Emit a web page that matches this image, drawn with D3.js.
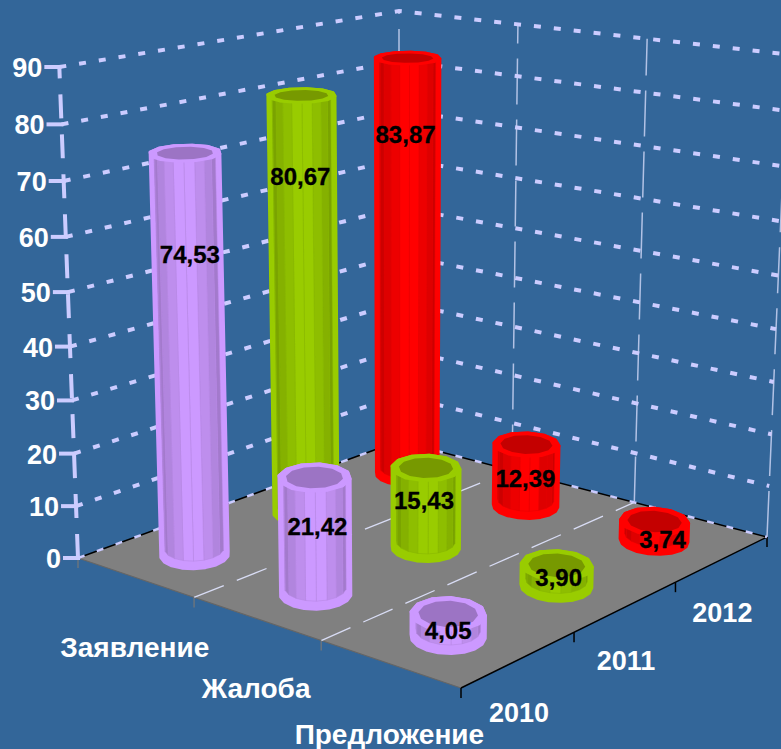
<!DOCTYPE html>
<html><head><meta charset="utf-8">
<script src="https://cdn.jsdelivr.net/npm/d3@7/dist/d3.min.js"></script>
<style>html,body{margin:0;padding:0;background:#336699}svg{display:block}text{font-family:"Liberation Sans",Arial,sans-serif;font-weight:bold}</style>
</head><body><svg id="c" width="781" height="749"></svg>
<script>
const categories = ["Заявление","Жалоба","Предложение"];
const years = ["2010","2011","2012"];
const yTicks = [0,10,20,30,40,50,60,70,80,90];
const values2010 = [74.53,21.42,4.05];
const values2011 = [80.67,15.43,3.90];
const values2012 = [83.87,12.39,3.74];
const seriesValues = [values2010,values2011,values2012];
const seriesColors = ["#CC99FF","#99CC00","#FF0000"];
const seriesInner = ["#9C74C4","#779900","#C40000"];

// layout: projective camera fitted to the picture
const floorCorners = [[78,558],[461,688],[767,537],[399,441]];
const vanish = [399,9000], axisTopY = 67, maxV = 90;
// label placement (px from top-face centre)
const labelNudge = {
  "2010":[[5,101],[3,49],[0,16]],
  "2011":[[-1,81],[-2,33],[2,12]],
  "2012":[[-2,76],[-1,34],[8,18]]
};

const [[x0,y0],[x1,y1],[x2,y2],[x3,y3]] = floorCorners;
const dx1=x1-x2,dx2=x3-x2,dy1=y1-y2,dy2=y3-y2,sx=x0-x1+x2-x3,sy=y0-y1+y2-y3,den=dx1*dy2-dx2*dy1;
const g=(sx*dy2-dx2*sy)/den,h=(dx1*sy-sx*dy1)/den;
const a=x1-x0+g*x1,b=x3-x0+h*x3,c=x0,d=y1-y0+g*y1,e=y3-y0+h*y3,f=y0;
const tScale=d3.scaleLinear().domain([0,maxV]).range([0,(axisTopY-y0)/(vanish[1]-axisTopY)]);
function P(u,v,val){
  const t=tScale(val||0), W=g*u+h*v+1+t;
  return [(a*u+b*v+c+t*vanish[0])/W,(d*u+e*v+f+t*vanish[1])/W];
}
const uBand=d3.scaleBand().domain(categories).range([0,1]);
const vBand=d3.scaleBand().domain(years).range([0,1]);
const uTicks=[0,1/3,2/3,1], vTicks=[0,1/3,2/3,1];

const svg=d3.select("#c");
const line=d3.line();
const GRID="#CCCCFF";
function seg(pts,col,w,dash,op){
  const p=svg.append("path").attr("d",line(pts)).attr("fill","none").attr("stroke",col).attr("stroke-width",w);
  if(dash)p.attr("stroke-dasharray",dash);
  if(op)p.attr("opacity",op);
  return p;
}
// wall verticals on the back-right wall
uTicks.forEach(u=>seg([P(u,1,0),P(u,1,maxV)],"#DDE2FF",1.5,"46,15",0.75));

// floor
svg.append("path").attr("d",line([P(0,0),P(1,0),P(1,1),P(0,1)])+"Z").attr("fill","#808080");
seg([P(0,0),P(1,0)],"#666",1.2);
seg([P(0,0),P(0,1)],"#000",1.5);
seg([P(0,1),P(1,1)],"#000",1.5);
seg([P(1,0),P(1,1)],"#000",1.5);
// floor lines
[1/3,2/3].forEach(u=>seg([P(u,0),P(u,1)],"#D8DCF4",1.3,"32,14"));
// ticks below the floor
uTicks.slice(0,3).forEach(u=>{const p=P(u,0);seg([p,[p[0],p[1]+10]],"#777",1.2);});
vTicks.forEach(v=>{const p=P(1,v);seg([p,[p[0],p[1]+10]],"#000",1.5);});

// dashed gridlines on both walls
yTicks.forEach(t=>{
  seg([P(0,0,t),P(0,1,t),P(1,1,t)],GRID,t===0?2.5:4,"7,13");
});
// value axis
seg([P(0,0,0),P(0,0,maxV)],GRID,4,"24,16");
yTicks.forEach(t=>{
  const p=P(0,0,t);
  seg([[p[0]-15,p[1]],[p[0]+2,p[1]]],GRID,4);
  svg.append("text").attr("x",p[0]-17).attr("y",p[1]+10).attr("text-anchor","end")
    .attr("font-size",27).attr("fill","#fff").text(t);
});
// category and year labels
categories.forEach(cat=>{
  const p=P(uBand(cat)+uBand.bandwidth()/2,0);
  svg.append("text").attr("x",p[0]).attr("y",p[1]+80).attr("text-anchor","middle")
    .attr("font-size",28).attr("fill","#fff").text(cat);
});
years.forEach(y=>{
  const p=P(1,vBand(y)+vBand.bandwidth()/2);
  svg.append("text").attr("x",p[0]).attr("y",p[1]+63).attr("text-anchor","middle")
    .attr("font-size",27).attr("fill","#fff").text(y);
});

// bars
const Ra=0.069,Rb=0.081,SIDES=18,RIM=12;
function ring(cu,cv,k,val,n){
  return d3.range(n).map(i=>{
    const an=i/n*2*Math.PI+0.2, A=Ra*k*Math.cos(an)*Math.SQRT1_2, B=Rb*k*Math.sin(an)*Math.SQRT1_2;
    return P(cu+A+B,cv+A-B,val);
  });
}
const bars=[];
years.forEach((y,j)=>categories.forEach((cat,i)=>bars.push({
  y,j,i,cat,val:seriesValues[j][i],
  cu:uBand(cat)+uBand.bandwidth()/2,
  cv:vBand(y)+vBand.bandwidth()/2
})));
bars.sort((p,q)=>q.j-p.j||p.i-q.i);
const labels=[];
bars.forEach(B=>{
  const col=seriesColors[B.j], inner=seriesInner[B.j];
  const botO=ring(B.cu,B.cv,1,0,SIDES), topO=ring(B.cu,B.cv,1,B.val,RIM);
  const hull=d3.polygonHull(botO.concat(topO));
  svg.append("path").attr("d",line(hull)+"Z").attr("fill",col).attr("stroke",col)
    .attr("stroke-width",3).attr("stroke-linejoin","round");
  const botI=ring(B.cu,B.cv,0.87,1.1,SIDES), topI=ring(B.cu,B.cv,0.87,B.val,SIDES);
  const meanX=d3.mean(botI,p=>p[0]), half=(d3.max(botI,p=>p[0])-d3.min(botI,p=>p[0]))/2;
  const dark=d3.interpolateRgb(col,"#000");
  const meanY=d3.mean(botI,p=>p[1]);
  d3.range(SIDES).forEach(i=>{
    const k=(i+1)%SIDES, q=[botI[i],botI[k],topI[k],topI[i]];
    if((q[0][1]+q[1][1])/2<meanY) return;
    const s=Math.abs((q[0][0]+q[1][0])/2-meanX)/half;
    const shade=dark(s<0.3?0:s<0.6?0.07:s<0.85?0.13:0.2);
    svg.append("path").attr("d",line(q)+"Z").attr("fill",shade).attr("stroke",d3.color(col).darker(0.35)).attr("stroke-width",0.5);
  });
  svg.append("path").attr("d",line(topO)+"Z").attr("fill",col).attr("stroke",col).attr("stroke-width",3).attr("stroke-linejoin","round");
  svg.append("path").attr("d",line(ring(B.cu,B.cv,0.8,B.val,RIM))+"Z").attr("fill",inner);
  const c0=[d3.mean(topO,p=>p[0]),d3.mean(topO,p=>p[1])];
  const n=labelNudge[B.y][B.i];
  labels.push({x:c0[0]+n[0],y:c0[1]+n[1],t:d3.format(".2f")(B.val).replace(".",",")});
});
labels.forEach(l=>svg.append("text").attr("x",l.x).attr("y",l.y).attr("dy","0.36em").attr("text-anchor","middle")
  .attr("font-size",24).attr("fill","#000").attr("stroke","#000").attr("stroke-width",0.3).text(l.t));
</script></body></html>
